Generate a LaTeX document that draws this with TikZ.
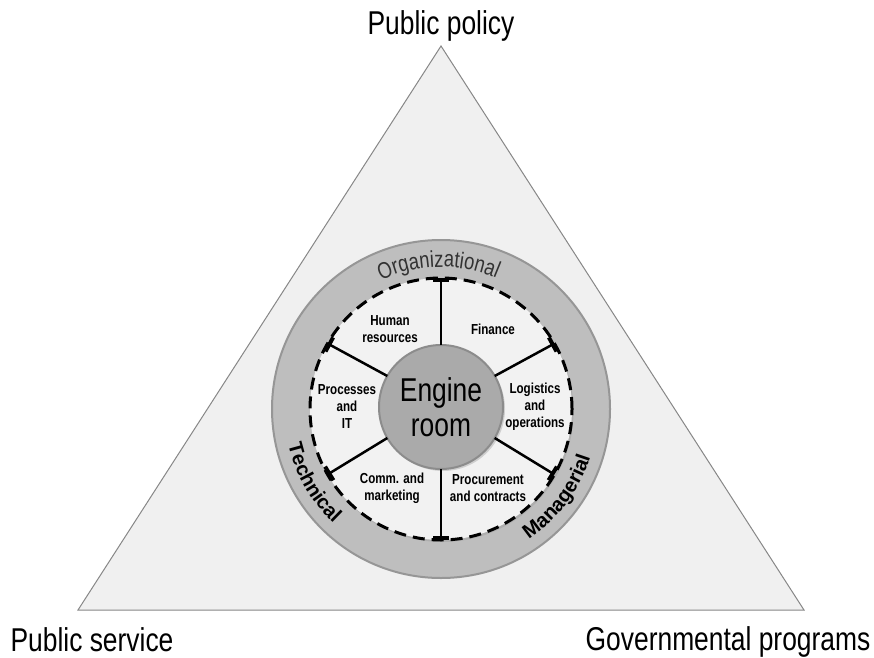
\documentclass[tikz,border=0pt]{standalone}
\usepackage{fontspec}
\setmainfont{Liberation Sans}
\newfontfamily\cond[FakeStretch=0.8]{Liberation Sans}
\usetikzlibrary{decorations.text,shadows,arrows.meta,calc}
\definecolor{trifill}{RGB}{240,240,240}
\definecolor{triedge}{RGB}{135,135,135}
\definecolor{ringfill}{RGB}{190,190,190}
\definecolor{ringedge}{RGB}{150,150,150}
\definecolor{diskfill}{RGB}{242,242,242}
\definecolor{enginefill}{RGB}{170,170,170}
\definecolor{engineedge}{RGB}{140,140,140}
\definecolor{orgtext}{RGB}{50,50,50}
\tikzset{
  corner/.style={font=\cond\fontsize{33}{36}\selectfont, inner sep=0pt, anchor=base},
  sector/.style={font=\cond\bfseries\fontsize{14.5}{17}\selectfont, align=center, inner sep=0pt},
  spoke/.style={line width=2.5pt, -{Bar[width=16pt,line width=4pt]}},
  ringtext/.style={decorate, decoration={text along path, text align=center}}
}
\begin{document}
\begin{tikzpicture}[x=1pt,y=1pt]
\useasboundingbox (0,0) rectangle (874,657);
\coordinate (c) at (441,248);
\coordinate (apex) at (441,611);
\coordinate (bl) at (78,47);
\coordinate (br) at (804,47);
\draw[fill=trifill, draw=triedge, line width=1pt] (apex) -- (bl) -- (br) -- cycle;
\node[circle, minimum size=338pt, inner sep=0pt, outer sep=0pt, fill=ringfill, draw=ringedge, line width=2pt] (ring) at (c) {};
\node[circle, minimum size=262pt, inner sep=0pt, outer sep=0pt, fill=diskfill, draw=black, line width=3pt, dash pattern=on 12pt off 7pt,
  drop shadow={opacity=0.25, shadow xshift=1.5pt, shadow yshift=-2pt}] (disk) at (c) {};
\node[circle, minimum size=124pt, inner sep=0pt, outer sep=0pt, fill=enginefill, draw=engineedge, line width=2pt,
  drop shadow={opacity=0.3, shadow xshift=2pt, shadow yshift=-2pt},
  font=\cond\fontsize{33}{35}\selectfont, align=center] (engine) at (441,250) {Engine\\room};
\foreach \a in {90,30,-30,-90,150,210}{
  \draw[spoke] (engine.\a) -- (disk.\a);
}
\node[sector] (hr) at (390,328) {Human\\resources};
\node[sector] (fin) at (493,328) {Finance};
\node[sector] (proc) at (347,250) {Processes\\and\\IT};
\node[sector] (log) at (535,250) {Logistics\\and\\operations};
\node[sector] (comm) at (392,169) {Comm. and\\marketing};
\node[sector] (pro) at (488,169) {Procurement\\and contracts};
\path[ringtext, decoration={text={|\cond\color{orgtext}\fontsize{23}{24}\selectfont|Organizational}}]
  ($(c)+(152:142)$) arc[start angle=152, end angle=30, radius=142];
\path[ringtext, decoration={text={|\bfseries\fontsize{20}{21}\selectfont|Technical}}]
  ($(c)+(150:157)$) arc[start angle=150, end angle=270, radius=157];
\path[ringtext, decoration={text={|\bfseries\fontsize{20}{21}\selectfont|Managerial}}]
  ($(c)+(-97:157)$) arc[start angle=-97, end angle=23, radius=157];
\node[corner] (policy) at (441,622) {Public policy};
\node[corner] (service) at (92,6) {Public service};
\node[corner] (programs) at (728,7) {Governmental programs};
\end{tikzpicture}
\end{document}
